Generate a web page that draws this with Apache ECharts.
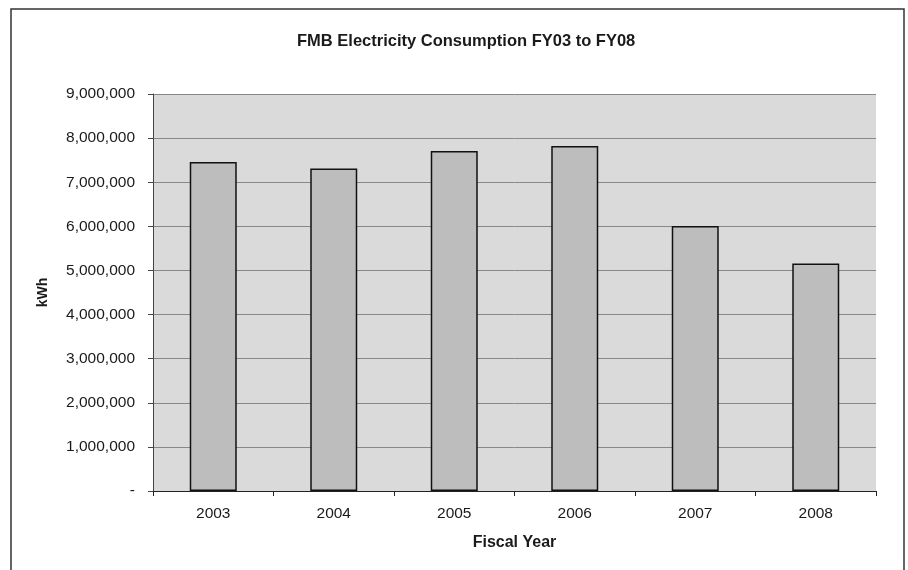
<!DOCTYPE html>
<html>
<head>
<meta charset="utf-8">
<script src="https://cdn.jsdelivr.net/npm/echarts@6/dist/echarts.min.js"></script>
<style>
  html, body { margin: 0; padding: 0; background: #ffffff; }
  #chart { width: 908px; height: 570px; }
</style>
</head>
<body>
<div id="chart"></div>
<script>
// Fiscal years and annual electricity use (kWh)
const fiscalYears = ['2003', '2004', '2005', '2006', '2007', '2008'];
const consumptionKWh = [7460000, 7310000, 7710000, 7820000, 6010000, 5160000];
const yTicks = { min: 0, max: 9000000, step: 1000000 };

const chart = echarts.init(document.getElementById('chart'));
const font = '"Liberation Sans", Arial, sans-serif';

chart.setOption({
  backgroundColor: '#ffffff',
  animation: false,
  title: {
    text: 'FMB Electricity Consumption FY03 to FY08',
    left: 292,
    top: 28,
    textStyle: { fontFamily: font, fontSize: 16.5, fontWeight: 'bold', color: '#1a1a1a' }
  },
  graphic: [{
    type: 'rect',
    shape: { x: 11, y: 9, width: 893, height: 580 },
    style: { fill: 'none', stroke: '#333333', lineWidth: 1.5 },
    silent: true
  }],
  grid: {
    left: 153, right: 32, top: 94, bottom: 79,
    show: true, backgroundColor: '#dadada', borderWidth: 0
  },
  xAxis: {
    type: 'category',
    data: fiscalYears,
    boundaryGap: true,
    name: 'Fiscal Year',
    nameLocation: 'middle',
    nameGap: 44,
    nameTextStyle: { fontFamily: font, fontSize: 16, fontWeight: 'bold', color: '#1a1a1a' },
    axisLine: { lineStyle: { color: '#222222', width: 1.2 } },
    axisTick: { show: true, length: 5, lineStyle: { color: '#222222' } },
    axisLabel: { fontFamily: font, fontSize: 15.5, color: '#1a1a1a', margin: 15 }
  },
  yAxis: {
    type: 'value',
    min: yTicks.min,
    max: yTicks.max,
    interval: yTicks.step,
    name: 'kWh',
    nameLocation: 'middle',
    nameGap: 103,
    nameRotate: 90,
    nameTextStyle: { fontFamily: font, fontSize: 14, fontWeight: 'bold', color: '#1a1a1a' },
    axisLine: { show: true, lineStyle: { color: '#444444', width: 1 } },
    axisTick: { show: true, inside: false, length: 5, lineStyle: { color: '#444444' } },
    axisLabel: {
      fontFamily: font, fontSize: 15.5, color: '#1a1a1a', margin: 18,
      formatter: v => v === 0 ? '-' : v.toLocaleString('en-US')
    },
    splitLine: { show: true, lineStyle: { color: '#888888', width: 1 } }
  },
  series: [{
    type: 'bar',
    data: consumptionKWh,
    barWidth: '39%',
    itemStyle: { color: '#bdbdbd', borderColor: '#111111', borderWidth: 1.5 }
  }]
});
</script>
</body>
</html>
